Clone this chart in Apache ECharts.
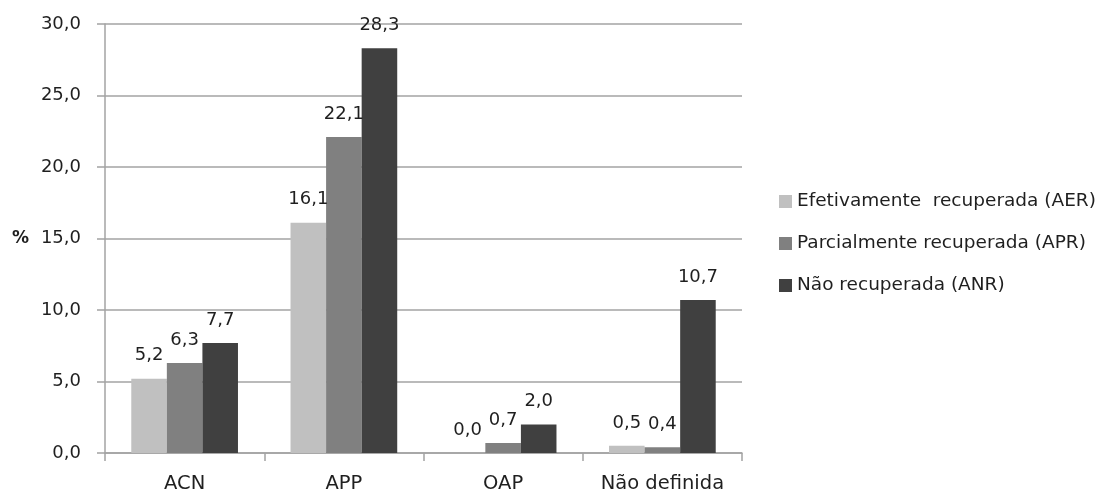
<!DOCTYPE html>
<html>
<head>
<meta charset="utf-8">
<script src="https://cdn.jsdelivr.net/npm/echarts@6/dist/echarts.min.js"></script>
<style>
  html, body { margin: 0; padding: 0; background: #fff; }
  #chart { width: 1101px; height: 493px; }
</style>
</head>
<body>
<div id="chart"></div>
<script>
// Categories and series values (%)
var categories = ['ACN', 'APP', 'OAP', 'Não definida'];
var seriesNames = [
  'Efetivamente  recuperada (AER)',
  'Parcialmente recuperada (APR)',
  'Não recuperada (ANR)'
];
var valuesAER = [5.2, 16.1, 0.0, 0.5];
var valuesAPR = [6.3, 22.1, 0.7, 0.4];
var valuesANR = [7.7, 28.3, 2.0, 10.7];
var yTicks = [0, 5, 10, 15, 20, 25, 30];

var FONT = 'DejaVu Sans';
var TEXT = '#1f1f1f';
var GRID = '#a3a3a3';
var colors = ['#c0c0c0', '#808080', '#404040'];

function fmt(v) { return Number(v).toFixed(1).replace('.', ','); }

function barSeries(name, data, color) {
  return {
    name: name,
    type: 'bar',
    data: data,
    barGap: '0%',
    barCategoryGap: '33%',
    itemStyle: { color: color },
    label: {
      show: true,
      position: 'top',
      distance: 14,
      color: TEXT,
      fontFamily: FONT,
      fontSize: 18,
      formatter: function (p) { return fmt(p.value); }
    }
  };
}

var chart = echarts.init(document.getElementById('chart'), null, { renderer: 'canvas' });
chart.setOption({
  animation: false,
  backgroundColor: '#ffffff',
  color: colors,
  grid: { left: 105, right: 359, top: 24, bottom: 40, containLabel: false, outerBoundsMode: 'none' },
  legend: {
    orient: 'vertical',
    left: 774,
    top: 187,
    itemWidth: 13,
    itemHeight: 13,
    itemGap: 23,
    icon: 'rect',
    textStyle: { color: TEXT, fontFamily: FONT, fontSize: 18.5 },
    data: seriesNames
  },
  xAxis: {
    type: 'category',
    data: categories,
    axisLine: { show: true, lineStyle: { color: GRID, width: 1.5 } },
    axisTick: { show: true, length: 8, alignWithLabel: false, lineStyle: { color: GRID, width: 1.5 } },
    axisLabel: { interval: 0, color: TEXT, fontFamily: FONT, fontSize: 19.5, margin: 21 }
  },
  yAxis: {
    type: 'value',
    min: yTicks[0],
    max: yTicks[yTicks.length - 1],
    interval: 5,
    name: '%',
    nameLocation: 'middle',
    nameRotate: 0,
    nameGap: 76,
    nameTextStyle: { color: TEXT, fontFamily: FONT, fontSize: 17, fontWeight: 'bold' },
    axisLine: { show: true, lineStyle: { color: GRID, width: 1.5 } },
    axisTick: { show: true, length: 8, lineStyle: { color: GRID, width: 1.5 } },
    axisLabel: { color: TEXT, fontFamily: FONT, fontSize: 18, margin: 24, formatter: fmt },
    splitLine: { show: true, lineStyle: { color: GRID, width: 1.5 } }
  },
  series: [
    barSeries(seriesNames[0], valuesAER, colors[0]),
    barSeries(seriesNames[1], valuesAPR, colors[1]),
    barSeries(seriesNames[2], valuesANR, colors[2])
  ]
});
</script>
</body>
</html>
